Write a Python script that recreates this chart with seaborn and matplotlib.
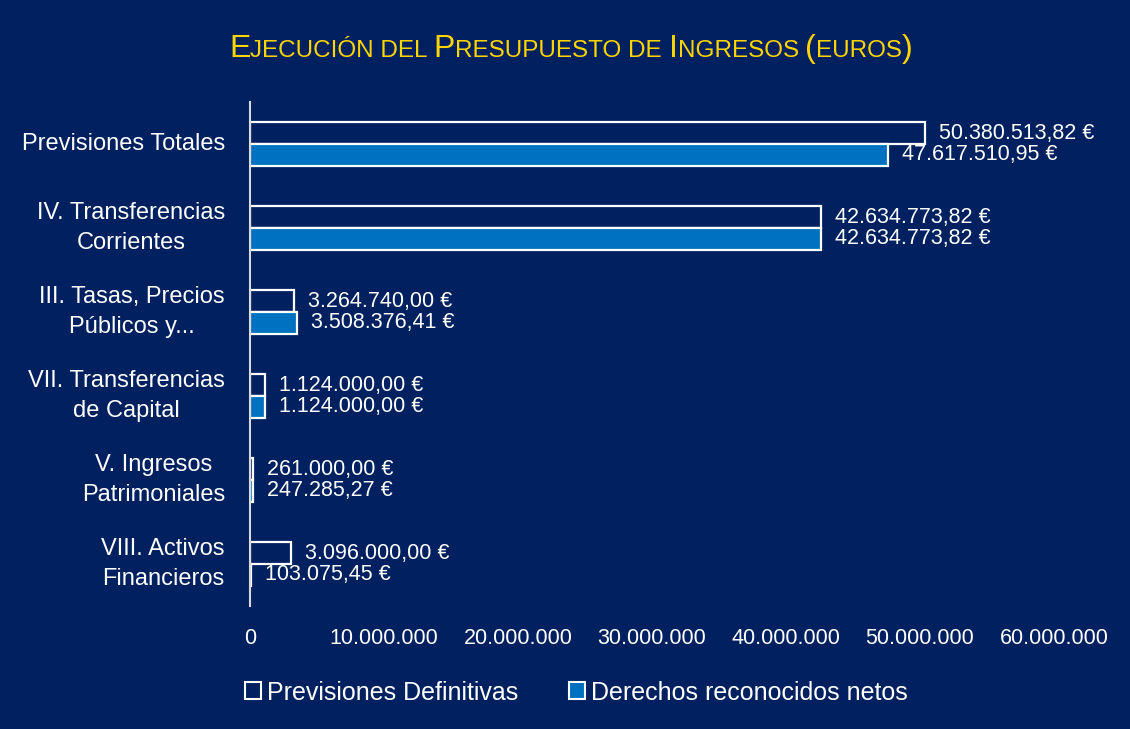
import matplotlib
matplotlib.use("Agg")
import matplotlib.pyplot as plt
import matplotlib.font_manager as fm
import seaborn as sns
import pandas as pd
from matplotlib.patches import Patch

categories = ["Previsiones Totales", "IV. Transferencias\nCorrientes",
              "III. Tasas, Precios\nPúblicos y...", "VII. Transferencias\nde Capital",
              "V. Ingresos\nPatrimoniales", "VIII. Activos\nFinancieros"]
series = ["Previsiones Definitivas", "Derechos reconocidos netos"]
previsiones = [50380513.82, 42634773.82, 3264740.00, 1124000.00, 261000.00, 3096000.00]
derechos = [47617510.95, 42634773.82, 3508376.41, 1124000.00, 247285.27, 103075.45]
xticks = [0, 10000000, 20000000, 30000000, 40000000, 50000000, 60000000]

BG = "#002060"
BLUE = "#0070C0"
GOLD = "#FFD500"

sns.set_theme(style="white")
names = {f.name for f in fm.fontManager.ttflist}
base_font = "Liberation Sans" if "Liberation Sans" in names else "DejaVu Sans"
title_font = "Liberation Sans Narrow" if "Liberation Sans Narrow" in names else base_font
plt.rcParams["font.family"] = [base_font, "DejaVu Sans"]

df = pd.DataFrame({
    "cat": categories * 2,
    "serie": [series[0]] * len(categories) + [series[1]] * len(categories),
    "val": previsiones + derechos,
})

fig = plt.figure(figsize=(11.3, 7.29), dpi=100, facecolor=BG)
ax = fig.add_axes([0.2212, 0.1687, 0.7115, 0.6913])
ax.set_facecolor(BG)

sns.barplot(data=df, y="cat", x="val", hue="serie", orient="h",
            palette={series[0]: BG, series[1]: BLUE}, saturation=1,
            width=0.52, edgecolor="white", linewidth=1.6, ax=ax, legend=False,
            errorbar=None)

def fmt(v):
    s = f"{v:,.2f}"
    return s.replace(",", "X").replace(".", ",").replace("X", ".") + " €"

for cont in ax.containers:
    ax.bar_label(cont, labels=[fmt(b.get_width()) for b in cont], padding=10,
                 color="white", fontsize=15.5)

ax.set_xlim(0, 60000000)
ax.set_ylim(5.5, -0.5)
ax.set_xticks(xticks)
ax.set_xticklabels([f"{t:,}".replace(",", ".") for t in xticks])
ax.tick_params(axis="x", colors="white", labelsize=15.5, length=0, pad=16)
ax.tick_params(axis="y", colors="white", labelsize=17, length=0, pad=18)
for lab in ax.get_yticklabels():
    lab.set_multialignment("center")
    lab.set_linespacing(1.5)
    lab.set_verticalalignment("center")
ax.set_xlabel("")
ax.set_ylabel("")
for side in ["top", "right", "bottom"]:
    ax.spines[side].set_visible(False)
ax.spines["left"].set_color("#D9D9D9")
ax.spines["left"].set_linewidth(1.5)

handles = [Patch(facecolor=BG, edgecolor="white", linewidth=1.5),
           Patch(facecolor=BLUE, edgecolor="white", linewidth=1.5)]
fig.legend(handles, series, loc="center", bbox_to_anchor=(0.51, 0.05), ncol=2,
           frameon=False, fontsize=18, labelcolor="white", handlelength=0.65,
           handleheight=0.65, handletextpad=0.25, columnspacing=2.0)

# Small-caps title
pieces = [("E", 1), ("JECUCIÓN DEL ", 0), ("P", 1), ("RESUPUESTO DE ", 0),
          ("I", 1), ("NGRESOS ", 0), ("(", 1), ("EUROS", 0), (")", 1)]
L, S = 23, 17.5
texts = [fig.text(0, 0.922, s, fontsize=(L if big else S), color=GOLD,
                  family=[title_font, "DejaVu Sans"], ha="left", va="baseline")
         for s, big in pieces]
fig.canvas.draw()
r = fig.canvas.get_renderer()
widths = [t.get_window_extent(r).width for t in texts]
total = sum(widths)
x = 571 - total / 2
for t, w in zip(texts, widths):
    t.set_x(x / 1130)
    x += w

fig.savefig("out.png", dpi=100, facecolor=BG)
